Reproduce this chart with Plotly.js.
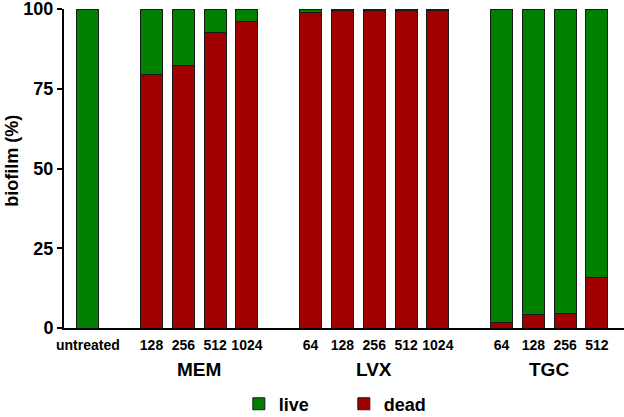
<!DOCTYPE html>
<html>
<head>
<meta charset="utf-8">
<script src="https://cdn.plot.ly/plotly-3.0.1.min.js"></script>
<style>
  html, body { margin: 0; padding: 0; background: #fff; }
  #chart { width: 624px; height: 417px; }
</style>
</head>
<body>
<div id="chart"></div>
<script>
// bar ids, in drawing order; empty slots separate the groups
const slots = ['untreated', 'gap1',
    'MEM-128', 'MEM-256', 'MEM-512', 'MEM-1024', 'gap2',
    'LVX-64', 'LVX-128', 'LVX-256', 'LVX-512', 'LVX-1024', 'gap3',
    'TGC-64', 'TGC-128', 'TGC-256', 'TGC-512'];
const barIds = ['untreated',
    'MEM-128', 'MEM-256', 'MEM-512', 'MEM-1024',
    'LVX-64', 'LVX-128', 'LVX-256', 'LVX-512', 'LVX-1024',
    'TGC-64', 'TGC-128', 'TGC-256', 'TGC-512'];
const doseLabels = ['untreated', '128', '256', '512', '1024',
    '64', '128', '256', '512', '1024', '64', '128', '256', '512'];
const groups = ['MEM', 'LVX', 'TGC'];

// biofilm (%)
const dead = [0, 79.5, 82.3, 92.6, 96.2, 99.0, 99.5, 99.6, 99.5, 99.6, 1.8, 4.1, 4.6, 15.7];
const live = [100, 20.5, 17.7, 7.4, 3.8, 1.0, 0.5, 0.4, 0.5, 0.4, 98.2, 95.9, 95.4, 84.3];

const boldFont = (size) => ({ family: 'Liberation Sans, Arial, sans-serif', size: size, color: '#000', weight: 'bold' });

window.onload = () => {
    const outline = { color: '#1a1a1a', width: 1 };
    const deadTrace = {
        type: 'bar', name: 'dead', x: barIds, y: dead, width: 0.69,
        marker: { color: '#a00000', line: outline }, cliponaxis: false
    };
    const liveTrace = {
        type: 'bar', name: 'live', x: barIds, y: live, width: 0.69,
        marker: { color: '#008000', line: outline }, cliponaxis: false
    };

    // group label sits in the middle of its bars
    const annotations = groups.map((g) => {
        const idx = slots.map((s, i) => (s.startsWith(g + '-') ? i : -1)).filter((i) => i >= 0);
        const mid = (idx[0] + idx[idx.length - 1]) / 2;
        return {
            text: g, xref: 'x', yref: 'paper', x: mid, y: -0.131,
            xanchor: 'center', yanchor: 'middle', showarrow: false, font: boldFont(19)
        };
    });
    annotations.push({
        text: 'biofilm (%)', textangle: -90, xref: 'paper', yref: 'paper',
        x: -0.093, y: 0.524, xanchor: 'center', yanchor: 'middle',
        showarrow: false, font: boldFont(18)
    });

    const layout = {
        width: 624, height: 417,
        margin: { l: 64, r: 0, t: 9, b: 89 },
        paper_bgcolor: '#fff', plot_bgcolor: '#fff',
        barmode: 'stack',
        showlegend: true,
        legend: {
            orientation: 'h', traceorder: 'reversed',
            xref: 'container', yref: 'container',
            x: 0.551, xanchor: 'center', y: 0.031, yanchor: 'middle',
            font: boldFont(18), entrywidth: 60, itemwidth: 30
        },
        xaxis: {
            type: 'category', categoryorder: 'array', categoryarray: slots,
            range: [-0.75, 16.85],
            tickmode: 'array', tickvals: barIds, ticktext: doseLabels,
            tickfont: boldFont(14), ticks: '', ticklabelstandoff: 3,
            showline: true, linecolor: '#000', linewidth: 2,
            showgrid: false, zeroline: false, fixedrange: true
        },
        yaxis: {
            range: [0, 100],
            tickmode: 'array', tickvals: [0, 25, 50, 75, 100],
            tickfont: boldFont(18), ticks: 'outside', ticklen: 5, tickwidth: 2, tickcolor: '#000',
            ticklabeloverflow: 'allow',
            showline: true, linecolor: '#000', linewidth: 2,
            showgrid: false, zeroline: false, fixedrange: true
        },
        annotations: annotations
    };

    Plotly.newPlot('chart', [deadTrace, liveTrace], layout, { displayModeBar: false, staticPlot: true });
};
</script>
</body>
</html>
